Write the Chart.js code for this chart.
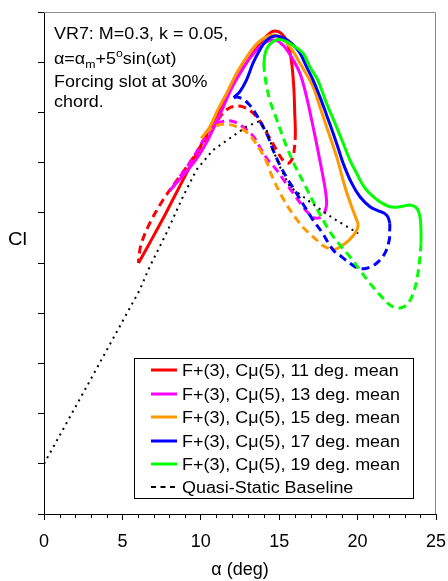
<!DOCTYPE html>
<html>
<head>
<meta charset="utf-8">
<script src="https://cdn.jsdelivr.net/npm/chart.js@4.4.1/dist/chart.umd.min.js"></script>
<style>
  html, body { margin: 0; padding: 0; background: #fff; }
  canvas { display: block; }
</style>
</head>
<body>
<canvas id="clChart" width="448" height="581"></canvas>
<script>
// Loop data: alpha (deg) and Cl, upstroke first (solid), then downstroke (dashed)
const alpha11 = [6.03, 6.74, 7.54, 8.31, 9.08, 9.85, 10.63, 11.40, 12.16, 13.12, 13.89, 14.40, 14.72, 15.11, 15.49, 15.77, 15.93, 15.99, 16.03,
                 15.99, 15.87, 15.61, 15.26, 14.72, 14.21, 13.76, 13.25, 12.74, 12.23, 11.72, 11.27, 11.00, 10.38, 9.72, 8.65, 7.59, 6.74, 6.21, 6.05, 6.03];
const cl11 = [0.800, 0.880, 0.971, 1.064, 1.157, 1.250, 1.343, 1.436, 1.521, 1.617, 1.684, 1.716, 1.724, 1.716, 1.684, 1.609, 1.501, 1.398, 1.322,
              1.270, 1.222, 1.198, 1.208, 1.262, 1.318, 1.366, 1.402, 1.421, 1.425, 1.414, 1.386, 1.357, 1.298, 1.237, 1.144, 1.051, 0.958, 0.878, 0.825, 0.800];
const up11 = 19;

const alpha13 = [8.01, 8.84, 9.67, 10.31, 10.82, 11.27, 11.91, 12.68, 13.44, 14.14, 14.72, 15.23, 15.74, 16.32, 16.74, 17.16, 17.59, 17.91, 18.02, 18.01,
                 17.88, 17.59, 17.21, 16.85, 16.44, 15.89, 15.36, 14.83, 14.29, 13.87, 13.33, 12.69, 12.06, 11.42, 10.82, 10.38, 9.80, 9.16, 8.52, 8.14, 8.01];
const cl13 = [1.087, 1.147, 1.210, 1.274, 1.338, 1.398, 1.489, 1.577, 1.641, 1.680, 1.688, 1.669, 1.625, 1.556, 1.463, 1.343, 1.210, 1.104, 1.051, 1.027,
              0.999, 0.981, 0.981, 0.999, 1.031, 1.078, 1.124, 1.171, 1.210, 1.250, 1.306, 1.342, 1.364, 1.364, 1.350, 1.314, 1.250, 1.186, 1.131, 1.095, 1.087];
const up13 = 20;

const alpha15 = [10.04, 10.57, 11.08, 11.65, 12.29, 12.93, 13.57, 14.14, 14.66, 15.23, 15.74, 16.32, 16.74, 17.16, 17.59, 18.02, 18.66, 19.19, 19.62, 19.92, 20.03, 19.89, 19.44, 18.93,
                 18.55, 18.17, 17.78, 17.38, 16.95, 16.51, 15.87, 15.23, 14.59, 14.19, 13.76, 13.33, 12.80, 12.16, 11.53, 10.89, 10.44, 10.04];
const cl15 = [1.297, 1.342, 1.410, 1.477, 1.557, 1.621, 1.673, 1.700, 1.708, 1.692, 1.657, 1.597, 1.552, 1.502, 1.423, 1.343, 1.224, 1.104, 1.024, 0.975, 0.951, 0.924, 0.890, 0.866,
              0.854, 0.858, 0.870, 0.892, 0.916, 0.943, 0.995, 1.059, 1.139, 1.204, 1.253, 1.293, 1.327, 1.346, 1.354, 1.344, 1.326, 1.297];
const up15 = 24;

const alpha17 = [12.10, 12.48, 12.91, 13.33, 13.76, 14.21, 14.72, 15.23, 15.79, 16.32, 16.74, 17.16, 17.59, 18.02, 18.44, 18.76, 19.08, 19.62, 20.15, 20.79, 21.29, 21.68, 21.93, 22.05,
                 22.04, 22.02, 21.74, 21.21, 20.57, 20.04, 19.51, 18.98, 18.44, 17.70, 17.16, 16.63, 16.10, 15.57, 15.04, 14.61, 14.29, 13.97, 13.55, 13.12, 12.68, 12.29, 12.10];
const cl17 = [1.459, 1.482, 1.529, 1.596, 1.649, 1.688, 1.704, 1.698, 1.675, 1.637, 1.582, 1.529, 1.463, 1.390, 1.317, 1.258, 1.197, 1.118, 1.064, 1.024, 1.009, 0.999, 0.983, 0.958,
              0.924, 0.892, 0.839, 0.799, 0.779, 0.779, 0.799, 0.825, 0.852, 0.925, 0.971, 1.024, 1.078, 1.131, 1.190, 1.250, 1.303, 1.343, 1.390, 1.429, 1.453, 1.461, 1.459];
const up17 = 24;

const alpha19 = [14.02, 14.11, 14.29, 14.61, 14.97, 15.47, 16.00, 16.53, 16.95, 17.46, 18.02, 18.55, 19.08, 19.51, 19.94, 20.26, 20.57, 21.00, 21.42, 22.06, 22.70, 23.34, 23.77, 23.98, 24.04, 24.04,
                 23.98, 23.81, 23.55, 23.13, 22.59, 22.06, 21.42, 20.79, 20.15, 19.51, 18.87, 18.23, 17.38, 16.53, 15.89, 15.36, 14.85, 14.40, 14.16, 14.05, 14.02];
const cl19 = [1.593, 1.637, 1.662, 1.682, 1.690, 1.682, 1.662, 1.635, 1.582, 1.529, 1.436, 1.358, 1.277, 1.210, 1.157, 1.119, 1.091, 1.064, 1.044, 1.024, 1.024, 1.031, 1.018, 0.984, 0.931, 0.878,
              0.825, 0.745, 0.679, 0.633, 0.620, 0.633, 0.673, 0.719, 0.772, 0.825, 0.872, 0.925, 1.019, 1.123, 1.202, 1.282, 1.370, 1.449, 1.517, 1.569, 1.593];
const up19 = 26;

// Quasi-static baseline
const alphaQS = [0, 3.01, 6.10, 6.74, 7.80, 8.86, 9.72, 10.78, 11.85, 12.91, 13.65, 14.19, 14.61, 15.04, 15.68, 16.53, 17.38, 18.44, 19.51, 20.04];
const clQS = [0.000, 0.340, 0.692, 0.785, 0.918, 1.064, 1.171, 1.250, 1.297, 1.343, 1.363, 1.330, 1.250, 1.184, 1.104, 1.064, 1.024, 0.978, 0.938, 0.918];

const seriesLabels = ['F+(3), Cμ(5), 11 deg. mean', 'F+(3), Cμ(5), 13 deg. mean', 'F+(3), Cμ(5), 15 deg. mean',
                      'F+(3), Cμ(5), 17 deg. mean', 'F+(3), Cμ(5), 19 deg. mean', 'Quasi-Static Baseline'];
const seriesColors = ['#ff0000', '#ff00ff', '#ff9900', '#0000ff', '#00ff00', '#000000'];
const xTicks = [0, 5, 10, 15, 20, 25];

const FONT = "'Liberation Sans', Arial, sans-serif";
const STRETCH = 1.12;

function pairs(xs, ys) {
    return xs.map((x, i) => ({ x: x, y: ys[i] }));
}

function loopDataset(i, xs, ys, upCount) {
    return {
        label: seriesLabels[i],
        data: pairs(xs, ys),
        showLine: true,
        borderColor: seriesColors[i],
        borderWidth: 3,
        pointRadius: 0,
        tension: 0.35,
        order: 5 - i,
        segment: {
            borderDash: c => (c.p0DataIndex >= upCount - 1 ? [8, 5] : undefined)
        }
    };
}

// draw text slightly widened, like the original
function wideText(ctx, str, x, y, size) {
    ctx.save();
    ctx.font = size + 'px ' + FONT;
    ctx.translate(x, y);
    ctx.scale(STRETCH, 1);
    ctx.fillText(str, 0, 0);
    const w = ctx.measureText(str).width * STRETCH;
    ctx.restore();
    return w;
}

const decorations = {
    id: 'decorations',
    afterDraw(chart) {
        const ctx = chart.ctx;
        const area = chart.chartArea;
        const xs = chart.scales.x;

        // gray frame on top and right
        ctx.save();
        ctx.strokeStyle = '#8c8c8c';
        ctx.lineWidth = 1;
        ctx.beginPath();
        ctx.moveTo(area.left, area.top + 0.5);
        ctx.lineTo(area.right - 0.5, area.top + 0.5);
        ctx.lineTo(area.right - 0.5, area.bottom);
        ctx.stroke();

        // minor ticks on x axis
        ctx.strokeStyle = '#000';
        ctx.beginPath();
        for (let v = 1; v < 25; v++) {
            if (v % 5 === 0) continue;
            const px = Math.round(xs.getPixelForValue(v)) + 0.5;
            ctx.moveTo(px, area.bottom);
            ctx.lineTo(px, area.bottom + 4);
        }
        ctx.stroke();

        ctx.fillStyle = '#000';
        ctx.textBaseline = 'alphabetic';

        // y axis label
        wideText(ctx, 'Cl', 8, 245, 18);

        // annotation
        wideText(ctx, 'VR7: M=0.3, k = 0.05,', 54, 39, 16);
        let x = 54;
        x += wideText(ctx, 'α=α', x, 64, 16);
        x += wideText(ctx, 'm', x, 68, 11);
        x += wideText(ctx, '+5', x, 64, 16);
        x += wideText(ctx, 'o', x, 57, 11);
        wideText(ctx, 'sin(ωt)', x, 64, 16);
        wideText(ctx, 'Forcing slot at 30%', 54, 87, 16);
        wideText(ctx, 'chord.', 54, 107, 16);

        // legend box
        ctx.strokeStyle = '#000';
        ctx.lineWidth = 1;
        ctx.strokeRect(134.5, 358.5, 279, 140);
        const rowY = [370, 394, 417, 441, 464, 487];
        chart.data.datasets.forEach((ds, i) => {
            const y = rowY[i];
            ctx.beginPath();
            if (i === 5) {
                ctx.lineWidth = 2;
                ctx.setLineDash([5, 4.5]);
            } else {
                ctx.lineWidth = 3;
                ctx.setLineDash([]);
            }
            ctx.strokeStyle = ds.borderColor;
            ctx.moveTo(151, y);
            ctx.lineTo(177, y);
            ctx.stroke();
            ctx.setLineDash([]);
            wideText(ctx, ds.label, 182, y + 6, 16);
        });
        ctx.restore();
    }
};

const datasets = [
    loopDataset(0, alpha11, cl11, up11),
    loopDataset(1, alpha13, cl13, up13),
    loopDataset(2, alpha15, cl15, up15),
    loopDataset(3, alpha17, cl17, up17),
    loopDataset(4, alpha19, cl19, up19),
    {
        label: seriesLabels[5],
        data: pairs(alphaQS, clQS),
        showLine: true,
        borderColor: seriesColors[5],
        borderWidth: 2,
        borderDash: [2, 4.5],
        pointRadius: 0,
        tension: 0,
        order: 0
    }
];

const chart = new Chart(document.getElementById('clChart').getContext('2d'), {
    type: 'scatter',
    data: { datasets: datasets },
    options: {
        responsive: false,
        animation: false,
        layout: { padding: { left: 0, right: 12, top: 12, bottom: 0 } },
        plugins: {
            legend: { display: false },
            tooltip: { enabled: false }
        },
        scales: {
            x: {
                type: 'linear',
                min: 0,
                max: 25,
                afterBuildTicks: s => { s.ticks = xTicks.map(v => ({ value: v })); },
                ticks: { color: '#000', font: { family: FONT, size: 18 }, padding: 11, maxRotation: 0 },
                grid: { drawOnChartArea: false, tickLength: 6, color: '#000' },
                border: { color: '#000', width: 1 },
                title: { display: true, text: 'α (deg)', color: '#000', font: { family: FONT, size: 18 }, padding: 0 },
                afterFit: s => { s.height = 67; s.paddingLeft = 0; s.paddingRight = 0; }
            },
            y: {
                type: 'linear',
                min: -0.2,
                max: 1.8,
                ticks: { stepSize: 0.2, display: false },
                grid: { drawOnChartArea: false, tickLength: 6, color: '#000' },
                border: { color: '#000', width: 1 },
                afterFit: s => { s.width = 44; s.paddingTop = 0; s.paddingBottom = 0; }
            }
        }
    },
    plugins: [decorations]
});
</script>
</body>
</html>
